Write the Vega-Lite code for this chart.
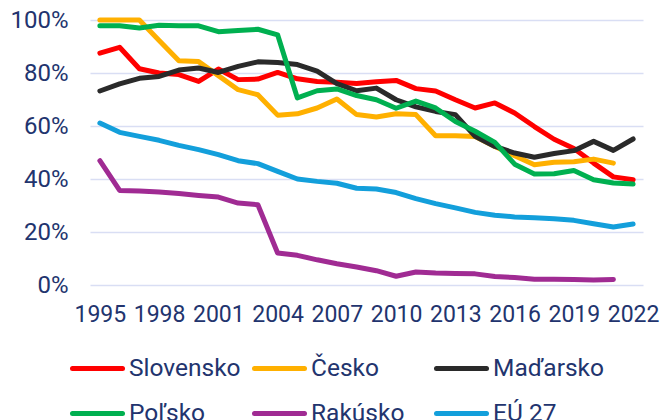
{
  "$schema": "https://vega.github.io/schema/vega-lite/v6.json",
  "width": 553,
  "height": 265,
  "autosize": "none",
  "padding": {"left": 90, "top": 20, "right": 19, "bottom": 135},
  "background": "white",
  "config": {
    "view": {"stroke": null},
    "font": "Roboto",
    "axis": {"labelFont": "Roboto", "labelColor": "#22346E", "labelFontSize": 23, "grid": true, "gridColor": "#D9DEF4", "gridWidth": 1.5, "domain": false, "ticks": false, "title": null},
    "legend": {"labelFont": "Roboto", "labelColor": "#22346E", "labelFontSize": 24.5}
  },
  "data": {"values": [
    {"year":1995,"country":"Slovensko","v":87.5},{"year":1996,"country":"Slovensko","v":89.7},{"year":1997,"country":"Slovensko","v":81.6},{"year":1998,"country":"Slovensko","v":80.0},{"year":1999,"country":"Slovensko","v":79.4},{"year":2000,"country":"Slovensko","v":76.8},{"year":2001,"country":"Slovensko","v":81.5},{"year":2002,"country":"Slovensko","v":77.5},{"year":2003,"country":"Slovensko","v":77.7},{"year":2004,"country":"Slovensko","v":80.2},{"year":2005,"country":"Slovensko","v":77.8},{"year":2006,"country":"Slovensko","v":76.8},{"year":2007,"country":"Slovensko","v":76.5},{"year":2008,"country":"Slovensko","v":76.0},{"year":2009,"country":"Slovensko","v":76.7},{"year":2010,"country":"Slovensko","v":77.2},{"year":2011,"country":"Slovensko","v":74.1},{"year":2012,"country":"Slovensko","v":73.2},{"year":2013,"country":"Slovensko","v":69.9},{"year":2014,"country":"Slovensko","v":66.8},{"year":2015,"country":"Slovensko","v":68.7},{"year":2016,"country":"Slovensko","v":64.9},{"year":2017,"country":"Slovensko","v":59.8},{"year":2018,"country":"Slovensko","v":55.0},{"year":2019,"country":"Slovensko","v":51.5},{"year":2020,"country":"Slovensko","v":46.0},{"year":2021,"country":"Slovensko","v":40.8},{"year":2022,"country":"Slovensko","v":39.7},
    {"year":1995,"country":"Česko","v":100},{"year":1996,"country":"Česko","v":100},{"year":1997,"country":"Česko","v":100},{"year":1998,"country":"Česko","v":92.3},{"year":1999,"country":"Česko","v":84.6},{"year":2000,"country":"Česko","v":84.3},{"year":2001,"country":"Česko","v":79.0},{"year":2002,"country":"Česko","v":73.7},{"year":2003,"country":"Česko","v":71.8},{"year":2004,"country":"Česko","v":64.1},{"year":2005,"country":"Česko","v":64.6},{"year":2006,"country":"Česko","v":66.8},{"year":2007,"country":"Česko","v":70.2},{"year":2008,"country":"Česko","v":64.3},{"year":2009,"country":"Česko","v":63.4},{"year":2010,"country":"Česko","v":64.6},{"year":2011,"country":"Česko","v":64.3},{"year":2012,"country":"Česko","v":56.3},{"year":2013,"country":"Česko","v":56.3},{"year":2014,"country":"Česko","v":56.0},{"year":2015,"country":"Česko","v":52.3},{"year":2016,"country":"Česko","v":48.8},{"year":2017,"country":"Česko","v":45.4},{"year":2018,"country":"Česko","v":46.3},{"year":2019,"country":"Česko","v":46.5},{"year":2020,"country":"Česko","v":47.5},{"year":2021,"country":"Česko","v":46.0},
    {"year":1995,"country":"Maďarsko","v":73.2},{"year":1996,"country":"Maďarsko","v":75.9},{"year":1997,"country":"Maďarsko","v":78.0},{"year":1998,"country":"Maďarsko","v":78.7},{"year":1999,"country":"Maďarsko","v":81.1},{"year":2000,"country":"Maďarsko","v":81.9},{"year":2001,"country":"Maďarsko","v":80.2},{"year":2002,"country":"Maďarsko","v":82.5},{"year":2003,"country":"Maďarsko","v":84.2},{"year":2004,"country":"Maďarsko","v":84.0},{"year":2005,"country":"Maďarsko","v":83.2},{"year":2006,"country":"Maďarsko","v":80.7},{"year":2007,"country":"Maďarsko","v":76.0},{"year":2008,"country":"Maďarsko","v":73.3},{"year":2009,"country":"Maďarsko","v":74.3},{"year":2010,"country":"Maďarsko","v":69.9},{"year":2011,"country":"Maďarsko","v":67.2},{"year":2012,"country":"Maďarsko","v":65.5},{"year":2013,"country":"Maďarsko","v":64.3},{"year":2014,"country":"Maďarsko","v":56.1},{"year":2015,"country":"Maďarsko","v":52.3},{"year":2016,"country":"Maďarsko","v":49.8},{"year":2017,"country":"Maďarsko","v":48.2},{"year":2018,"country":"Maďarsko","v":49.6},{"year":2019,"country":"Maďarsko","v":50.7},{"year":2020,"country":"Maďarsko","v":54.2},{"year":2021,"country":"Maďarsko","v":50.8},{"year":2022,"country":"Maďarsko","v":55.1},
    {"year":1995,"country":"Poľsko","v":97.8},{"year":1996,"country":"Poľsko","v":97.8},{"year":1997,"country":"Poľsko","v":97.0},{"year":1998,"country":"Poľsko","v":98.0},{"year":1999,"country":"Poľsko","v":97.8},{"year":2000,"country":"Poľsko","v":97.8},{"year":2001,"country":"Poľsko","v":95.6},{"year":2002,"country":"Poľsko","v":96.0},{"year":2003,"country":"Poľsko","v":96.5},{"year":2004,"country":"Poľsko","v":94.4},{"year":2005,"country":"Poľsko","v":70.6},{"year":2006,"country":"Poľsko","v":73.3},{"year":2007,"country":"Poľsko","v":74.0},{"year":2008,"country":"Poľsko","v":71.5},{"year":2009,"country":"Poľsko","v":69.9},{"year":2010,"country":"Poľsko","v":66.7},{"year":2011,"country":"Poľsko","v":69.4},{"year":2012,"country":"Poľsko","v":66.8},{"year":2013,"country":"Poľsko","v":61.7},{"year":2014,"country":"Poľsko","v":58.0},{"year":2015,"country":"Poľsko","v":53.8},{"year":2016,"country":"Poľsko","v":45.6},{"year":2017,"country":"Poľsko","v":41.9},{"year":2018,"country":"Poľsko","v":42.0},{"year":2019,"country":"Poľsko","v":43.2},{"year":2020,"country":"Poľsko","v":39.7},{"year":2021,"country":"Poľsko","v":38.5},{"year":2022,"country":"Poľsko","v":38.1},
    {"year":1995,"country":"Rakúsko","v":46.9},{"year":1996,"country":"Rakúsko","v":35.7},{"year":1997,"country":"Rakúsko","v":35.5},{"year":1998,"country":"Rakúsko","v":35.1},{"year":1999,"country":"Rakúsko","v":34.5},{"year":2000,"country":"Rakúsko","v":33.8},{"year":2001,"country":"Rakúsko","v":33.2},{"year":2002,"country":"Rakúsko","v":30.9},{"year":2003,"country":"Rakúsko","v":30.3},{"year":2004,"country":"Rakúsko","v":12.1},{"year":2005,"country":"Rakúsko","v":11.2},{"year":2006,"country":"Rakúsko","v":9.5},{"year":2007,"country":"Rakúsko","v":8.0},{"year":2008,"country":"Rakúsko","v":6.8},{"year":2009,"country":"Rakúsko","v":5.4},{"year":2010,"country":"Rakúsko","v":3.3},{"year":2011,"country":"Rakúsko","v":4.9},{"year":2012,"country":"Rakúsko","v":4.5},{"year":2013,"country":"Rakúsko","v":4.3},{"year":2014,"country":"Rakúsko","v":4.2},{"year":2015,"country":"Rakúsko","v":3.2},{"year":2016,"country":"Rakúsko","v":2.8},{"year":2017,"country":"Rakúsko","v":2.2},{"year":2018,"country":"Rakúsko","v":2.2},{"year":2019,"country":"Rakúsko","v":2.1},{"year":2020,"country":"Rakúsko","v":1.9},{"year":2021,"country":"Rakúsko","v":2.1},
    {"year":1995,"country":"EÚ 27","v":61.1},{"year":1996,"country":"EÚ 27","v":57.6},{"year":1997,"country":"EÚ 27","v":56.1},{"year":1998,"country":"EÚ 27","v":54.6},{"year":1999,"country":"EÚ 27","v":52.7},{"year":2000,"country":"EÚ 27","v":51.1},{"year":2001,"country":"EÚ 27","v":49.2},{"year":2002,"country":"EÚ 27","v":46.9},{"year":2003,"country":"EÚ 27","v":45.8},{"year":2004,"country":"EÚ 27","v":42.9},{"year":2005,"country":"EÚ 27","v":40.0},{"year":2006,"country":"EÚ 27","v":39.1},{"year":2007,"country":"EÚ 27","v":38.4},{"year":2008,"country":"EÚ 27","v":36.5},{"year":2009,"country":"EÚ 27","v":36.2},{"year":2010,"country":"EÚ 27","v":34.9},{"year":2011,"country":"EÚ 27","v":32.6},{"year":2012,"country":"EÚ 27","v":30.7},{"year":2013,"country":"EÚ 27","v":29.1},{"year":2014,"country":"EÚ 27","v":27.4},{"year":2015,"country":"EÚ 27","v":26.3},{"year":2016,"country":"EÚ 27","v":25.7},{"year":2017,"country":"EÚ 27","v":25.4},{"year":2018,"country":"EÚ 27","v":25.0},{"year":2019,"country":"EÚ 27","v":24.4},{"year":2020,"country":"EÚ 27","v":23.1},{"year":2021,"country":"EÚ 27","v":21.9},{"year":2022,"country":"EÚ 27","v":23.0}
  ]},
  "transform": [{"calculate": "datum.v / 100", "as": "share"}],
  "mark": {"type": "line", "strokeWidth": 5, "strokeCap": "round", "strokeJoin": "round", "clip": false},
  "encoding": {
    "x": {"field": "year", "type": "quantitative",
      "scale": {"domain": [1994.5, 2022.5], "nice": false, "zero": false},
      "axis": {"values": [1995,1998,2001,2004,2007,2010,2013,2016,2019,2022], "format": "d", "grid": false, "labelOverlap": false, "labelPadding": 18, "labelFlush": false}},
    "y": {"field": "share", "type": "quantitative",
      "scale": {"domain": [0, 1], "nice": false},
      "axis": {"values": [0,0.2,0.4,0.6,0.8,1], "format": ".0%", "labelPadding": 22, "labelFontSize": 24}},
    "color": {"field": "country", "type": "nominal",
      "scale": {"domain": ["Slovensko","Česko","Maďarsko","Poľsko","Rakúsko","EÚ 27"],
                "range": ["#FF0000","#FFB000","#2A2A2A","#00B050","#A02B93","#139FDB"]},
      "legend": {"title": null, "orient": "none", "legendX": -20, "legendY": 321, "direction": "horizontal", "columns": 3, "gridAlign": "all",
        "symbolType": "stroke", "symbolSize": 2500, "symbolStrokeWidth": 5, "labelOffset": 4, "columnPadding": 3, "rowPadding": 6,
        "encode": {"symbols": {"update": {"strokeCap": {"value": "round"}}}}}},
    "order": {"field": "year", "type": "quantitative"}
  }
}
